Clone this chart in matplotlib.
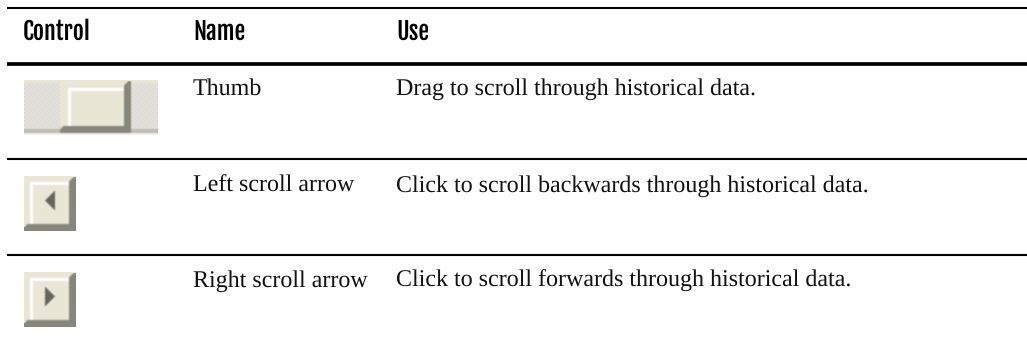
import numpy as np
import matplotlib
matplotlib.use('Agg')
from matplotlib import pyplot
from matplotlib.colors import to_rgb

matplotlib.rcParams['text.hinting'] = 'no_hinting'
matplotlib.rcParams['text.hinting_factor'] = 1

headers = ['Control', 'Name', 'Use']
names = ['Thumb', 'Left scroll arrow', 'Right scroll arrow']
uses = ['Drag to scroll through historical data.',
        'Click to scroll backwards through historical data.',
        'Click to scroll forwards through historical data.']

face = to_rgb('#e9e6d6')
light = to_rgb('#ffffff')
shadow = to_rgb('#86867a')
dark = to_rgb('#66665c')
track = to_rgb('#e6e5e0')
strip = to_rgb('#bcbcb0')


def blur(img):
    # the reference icons are soft, scaled-up screenshots
    out = img.copy()
    for axis in (0, 1):
        out = (np.roll(out, 1, axis) + 2*out + np.roll(out, -1, axis))/4.0
    out[[0, -1], :] = img[[0, -1], :]
    out[:, [0, -1]] = img[:, [0, -1]]
    return out


def button(img, x0, x1, y0, y1, inset=6):
    # raised button: face, light inner edge, dark bottom/right edge
    img[y0:y1, x0:x1] = face
    img[y0 + inset:y0 + inset + 3, x0 + inset:x1 - 7] = light
    img[y0 + inset:y1 - 7, x0 + inset:x0 + inset + 3] = light
    for i in range(7):
        img[y0 + 5 - min(i, 4):y1, x1 - 7 + i] = shadow
        img[y1 - 7 + i, x0 + max(3 - i, 0):x1] = shadow


def arrow_icon(direction):
    img = np.ones((55, 52, 3))*np.array(face)
    button(img, 0, 52, 0, 55)
    for i in range(10):
        half = i if direction == 'left' else 9 - i
        img[24 - half:25 + half, 21 + i] = dark
    return blur(img)


def thumb_icon():
    img = np.ones((55, 134, 3))*np.array(track)
    yy, xx = np.mgrid[0:55, 0:134]
    img[(xx//2 + yy//2) % 2 == 0] = to_rgb('#d9d8d2')
    img[0:3, :] = face
    img[49:53, :] = strip
    img[53:55, :] = to_rgb('#f2f2ea')
    button(img, 36, 107, 0, 53, inset=8)
    return blur(img)


fig = pyplot.figure(figsize=(10.27, 3.46), dpi=100)
ax = fig.add_axes([0, 0, 1, 1])

ax.imshow(thumb_icon(), extent=(24, 158, 135, 80), aspect='auto', interpolation='nearest')
ax.imshow(arrow_icon('left'), extent=(24, 76, 231, 176), aspect='auto', interpolation='nearest')
ax.imshow(arrow_icon('right'), extent=(24, 76, 327, 272), aspect='auto', interpolation='nearest')

ax.set_xlim(0, 1027)
ax.set_ylim(346, 0)
ax.axis('off')

# table rules
ax.plot([7, 1027], [8, 8], color='black', linewidth=1.5, solid_capstyle='butt')
ax.plot([7, 1027], [63.5, 63.5], color='black', linewidth=2.7, solid_capstyle='butt')
ax.plot([7, 1027], [159, 159], color='black', linewidth=1.5, solid_capstyle='butt')
ax.plot([7, 1027], [255, 255], color='black', linewidth=1.5, solid_capstyle='butt')

for x, label in zip([23, 193, 396], headers):
    ax.text(x, 40, label, family=['Fjalla One', 'Oswald', 'Liberation Sans'],
            fontsize=17.5, color='black', va='baseline')

for y, name, use in zip([95, 192, 287], names, uses):
    ax.text(193, y, name, family='Liberation Serif', fontsize=17,
            color='#111111', va='baseline')
    ax.text(396, y, use, family='Liberation Serif', fontsize=17,
            color='#111111', va='baseline')

pyplot.savefig('out.png', dpi=100)
